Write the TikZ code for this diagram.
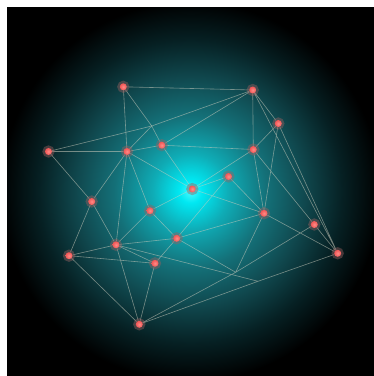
\documentclass[tikz,border=0pt]{standalone}
\definecolor{g0}{RGB}{70,250,255}
\definecolor{g1}{RGB}{0,232,242}
\definecolor{g2}{RGB}{15,172,182}
\definecolor{g3}{RGB}{20,112,120}
\definecolor{g4}{RGB}{16,72,78}
\definecolor{g5}{RGB}{6,32,35}
\definecolor{linkcol}{RGB}{205,205,190}
\definecolor{dotin}{RGB}{255,140,135}
\definecolor{dotout}{RGB}{240,85,85}
\definecolor{halo}{RGB}{150,95,95}
\pgfdeclareradialshading{bgglow}{\pgfpoint{0bp}{0bp}}{color(0bp)=(g0); color(1.5bp)=(g1); color(5bp)=(g2); color(10bp)=(g3); color(15bp)=(g4); color(20bp)=(g5); color(25bp)=(black); color(50bp)=(black)}
\pgfdeclarelayer{bglayer}
\pgfdeclarelayer{edgelayer}
\pgfsetlayers{bglayer,edgelayer,main}
\begin{document}
\begin{tikzpicture}[x=1pt,y=-1pt,
  link/.style={draw=linkcol, draw opacity=0.55, line width=0.6pt},
  dotnode/.style={circle, inner sep=0pt, minimum size=7pt, inner color=dotin, outer color=dotout,
    preaction={draw=halo, line width=5pt, draw opacity=0.45}},
  junction/.style={circle, inner sep=0pt, minimum size=2.5pt, fill=linkcol, fill opacity=0.6}]
\useasboundingbox (0,0) rectangle (374,376);
\begin{pgfonlayer}{bglayer}
  \fill[white] (0,0) rectangle (374,376);
  \fill[black] (7,7) rectangle (374,376);
  \begin{scope}
    \clip (7,7) rectangle (374,376);
    \shade[shading=bgglow] (190.5,191.5) circle[radius=190pt];
  \end{scope}
\end{pgfonlayer}
% nodes
\node[dotnode] (N1) at (123.3,86.8) {};
\node[dotnode] (N2) at (252.7,90) {};
\node[dotnode] (N3) at (278.3,123.5) {};
\node[dotnode] (N4) at (48.5,151.5) {};
\node[dotnode] (N5) at (127,151.5) {};
\node[dotnode] (N6) at (161.8,145.2) {};
\node[dotnode] (N7) at (253.3,149.5) {};
\node[dotnode] (N8) at (192.3,189) {};
\node[dotnode] (N9) at (228.5,176.5) {};
\node[dotnode] (N10) at (91.7,201.5) {};
\node[dotnode] (N11) at (150,210.7) {};
\node[dotnode] (N12) at (264,213.3) {};
\node[dotnode] (N13) at (314.3,224.5) {};
\node[dotnode] (N14) at (176.7,238.3) {};
\node[dotnode] (N15) at (116,244.8) {};
\node[dotnode] (N16) at (69,255.7) {};
\node[dotnode] (N17) at (155,263.3) {};
\node[dotnode] (N18) at (337.7,253.3) {};
\node[dotnode] (N19) at (139.3,324.3) {};
\node[junction] (P) at (151.7,126) {};
\coordinate (Q) at (235.7,272.3);
\coordinate (R) at (258,281.3);
\begin{pgfonlayer}{edgelayer}
  \path[link] (N1) -- (N2)  (N1) -- (N5)  (N1) -- (P)  (P) -- (N6)
    (N4) -- (P)  (P) -- (N2)  (N5) -- (P)  (N4) -- (N5)  (N4) -- (N10)
    (N5) -- (N6)  (N5) -- (N10)  (N5) -- (N15)  (N5) -- (N11)  (N5) -- (N8)
    (N6) -- (N2)  (N6) -- (N8)  (N6) -- (N7)
    (N2) -- (N7)  (N2) -- (N3)  (N2) -- (N18)
    (N3) -- (N7)  (N3) -- (N12)  (N3) -- (N18)
    (N7) -- (N8)  (N7) -- (N12)  (N7) -- (N13)
    (N8) -- (N9)  (N9) -- (N12)  (N9) -- (N14)  (N8) -- (N12)  (N8) -- (N11)
    (N12) -- (N14)  (N12) -- (N18)  (N12) -- (Q)
    (N13) -- (N18)  (N13) -- (Q)  (Q) -- (N19)  (N14) -- (Q)
    (N15) -- (R)  (N18) -- (R)  (R) -- (N19)
    (N10) -- (N15)  (N10) -- (N16)
    (N16) -- (N15)  (N16) -- (N17)  (N16) -- (N19)
    (N15) -- (N11)  (N15) -- (N14)  (N15) -- (N19)  (N15) -- (N17)
    (N17) -- (N19)  (N17) -- (N14)  (N11) -- (N14);
\end{pgfonlayer}
\end{tikzpicture}
\end{document}
